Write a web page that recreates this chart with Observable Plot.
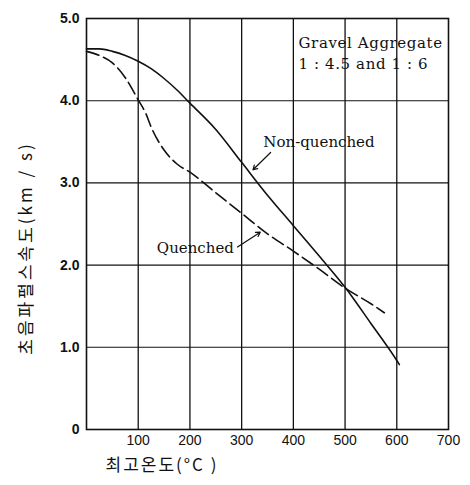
<!DOCTYPE html>
<html><head><meta charset="utf-8">
<script src="https://cdn.jsdelivr.net/npm/d3@7"></script>
<script src="https://cdn.jsdelivr.net/npm/@observablehq/plot@0.6"></script>
<style>body{margin:0;background:#fff}</style>
</head><body><div id="chart"></div>
<script>
const nqTemp = [0,25,50,75,100,125,150,175,200,250,300,350,400,450,500,550,600,605];
const nqVel  = [4.63,4.63,4.60,4.55,4.48,4.39,4.27,4.13,3.97,3.65,3.25,2.85,2.48,2.11,1.73,1.29,0.84,0.79];
const qTemp = [0,25,50,75,100,115,125,150,175,200,250,300,350,400,450,500,550,576];
const qVel  = [4.60,4.55,4.46,4.28,4.01,3.84,3.68,3.40,3.23,3.13,2.88,2.63,2.38,2.17,1.95,1.72,1.53,1.42];
const xTicks = [100,200,300,400,500,600,700];
const yTicks = [0,1,2,3,4,5];
const yTickLabels = ["0","1.0","2.0","3.0","4.0","5.0"];
const gridX = [100,200,300,400,500,600];
const gridY = [1,2,3,4];
const xTitle = "최고온도(°C )";
const yTitle = "초음파펄스속도(km / s)";
const boxLines = ["Gravel Aggregate","1 : 4.5 and 1 : 6"];
const seriesNames = ["Non-quenched","Quenched"];

const nq = nqTemp.map((t,i)=>({t, v:nqVel[i]}));
const q = qTemp.map((t,i)=>({t, v:qVel[i]}));
const serif = "'DejaVu Serif', 'Liberation Serif', serif";
const kr = "'Noto Sans CJK KR', sans-serif";
const ink = "#111";

const chart = Plot.plot({
  width: 470, height: 485,
  marginLeft: 86, marginRight: 22, marginTop: 18, marginBottom: 56,
  style: {fontFamily: "'Liberation Sans', Arial, sans-serif", fontSize: "14px", background: "#fff", color: ink},
  x: {domain: [0,700]},
  y: {domain: [0,5]},
  marks: [
    Plot.ruleX(gridX, {stroke: ink, strokeWidth: 1.3}),
    Plot.ruleY(gridY, {stroke: ink, strokeWidth: 1.1, strokeDasharray: d => d === 1 ? "14,4,3,4" : null}),
    Plot.frame({stroke: ink, strokeWidth: 1.6}),
    Plot.axisX(xTicks, {tickSize: 0, tickPadding: 6, fontSize: 14, label: null}),
    Plot.axisY(yTicks, {tickSize: 0, tickPadding: 7, fontSize: 14, fontWeight: "bold", label: null,
      tickFormat: d => yTickLabels[yTicks.indexOf(d)]}),
    Plot.line(nq, {x: "t", y: "v", curve: "monotone-x", stroke: ink, strokeWidth: 1.6}),
    Plot.line(q, {x: "t", y: "v", curve: "monotone-x", stroke: ink, strokeWidth: 1.6, strokeDasharray: "13,5"}),
    Plot.text(boxLines, {x: 410, y: (d,i) => [4.70,4.45][i], text: d => d, textAnchor: "start",
      fontFamily: serif, fontSize: 15, fill: ink}),
    Plot.text([seriesNames[0]], {x: 342, y: 3.49, text: d => d, textAnchor: "start", fontFamily: serif, fontSize: 15, fill: ink}),
    Plot.text([seriesNames[1]], {x: 136, y: 2.20, text: d => d, textAnchor: "start", fontFamily: serif, fontSize: 15, fill: ink}),
    Plot.arrow([{x1: 356, y1: 3.37, x2: 322, y2: 3.16}], {x1: "x1", y1: "y1", x2: "x2", y2: "y2", stroke: ink, strokeWidth: 1.2, headLength: 6}),
    Plot.arrow([{x1: 292, y1: 2.22, x2: 336, y2: 2.40}], {x1: "x1", y1: "y1", x2: "x2", y2: "y2", stroke: ink, strokeWidth: 1.2, headLength: 6}),
    Plot.text([xTitle], {frameAnchor: "bottom-left", dx: 19, dy: 41, text: d => d, textAnchor: "start",
      fontFamily: kr, fontSize: 17, fill: ink}),
    Plot.text([yTitle], {frameAnchor: "left", textAnchor: "middle", dx: -60, dy: 24, rotate: -90, text: d => d,
      fontFamily: kr, fontSize: 17, fill: ink})
  ]
});
d3.select(chart).selectAll("text").each(function() {
  const t = this.textContent;
  if (t === yTitle) d3.select(this).style("letter-spacing", "3px");
  if (t === xTitle) d3.select(this).style("letter-spacing", "2px");
  if (boxLines.includes(t)) d3.select(this).style("letter-spacing", "0.6px");
});
document.getElementById("chart").append(chart);
</script>
</body></html>
